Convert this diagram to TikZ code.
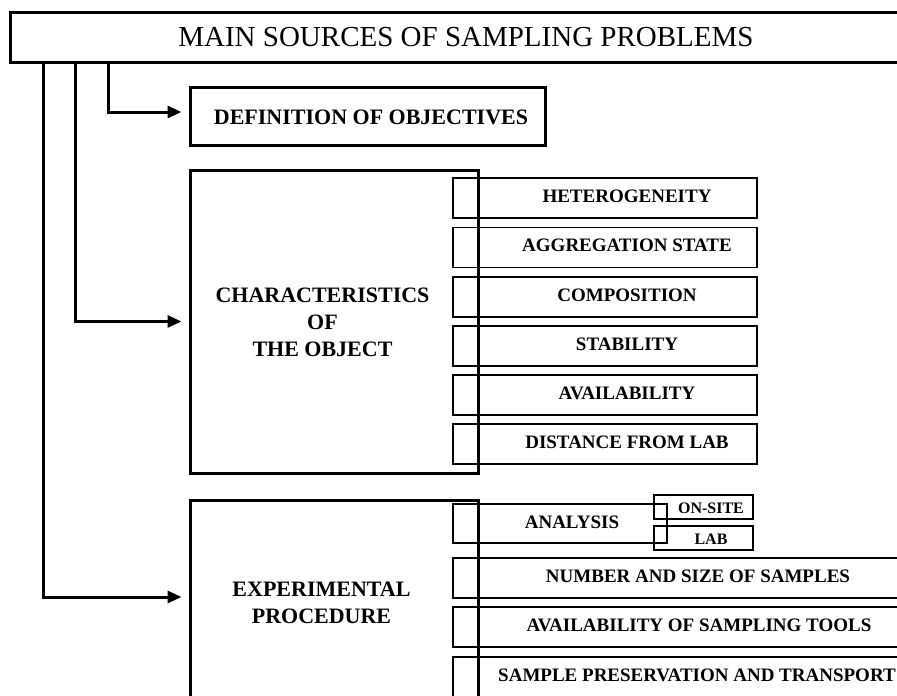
\documentclass[tikz,border=0pt]{standalone}
\usepackage{fontspec}
\setmainfont{Liberation Serif}
\usetikzlibrary{arrows.meta}
\begin{document}
\begin{tikzpicture}[x=1pt,y=-1pt,
  thickbox/.style={draw,line width=3pt,rectangle,inner sep=0pt},
  thinbox/.style={draw,line width=1.3pt,rectangle,inner sep=0pt},
  lbl/.style={font=\fontsize{19}{22}\selectfont\bfseries,inner sep=0pt},
  biglbl/.style={align=center,inner sep=0pt,font=\fontsize{22}{27}\selectfont\bfseries},
  small/.style={font=\fontsize{16}{18}\selectfont\bfseries,inner sep=0pt},
  arr/.style={line width=3pt,-{Triangle[length=14pt,width=12pt]},shorten >=7pt}]
\clip (0,0) rectangle (897,696);
% title
\node[thickbox,minimum width=912pt,minimum height=50pt,font=\fontsize{29}{32}\selectfont] (title) at (466,37) {MAIN SOURCES OF SAMPLING PROBLEMS};
% definition
\node[thickbox,minimum width=355pt,minimum height=58pt] (def) at (367.5,116) {};
\node[inner sep=0pt,font=\fontsize{22}{25}\selectfont\bfseries] (deft) at (371,117) {DEFINITION OF OBJECTIVES};
% characteristics
\node[thickbox,minimum width=288pt,minimum height=303pt] (char) at (334,321.5) {};
\node[biglbl] (chartext) at (322.5,322) {CHARACTERISTICS\\OF\\THE OBJECT};
% experimental
\node[thickbox,minimum width=288pt,minimum height=200pt] (exp) at (334,600) {};
\node[biglbl] (exptext) at (321.5,603) {EXPERIMENTAL\\PROCEDURE};
% char sub boxes
\foreach \n/\y/\t in {h1/198/HETEROGENEITY,h2/247.5/AGGREGATION STATE,h3/297/COMPOSITION,h4/346/STABILITY,h5/395/AVAILABILITY,h6/444/DISTANCE FROM LAB}{
  \node[thinbox,minimum width=304pt,minimum height=40pt] (\n) at (605,\y) {};
  \node[lbl] (\n t) at (627,\y-2) {\t};
}
% experimental sub boxes
\node[thinbox,minimum width=214pt,minimum height=39pt] (ana) at (560,523.5) {};
\node[lbl] (anat) at (572,522) {ANALYSIS};
\node[thinbox,minimum width=99pt,minimum height=24pt] (onsite) at (703.5,507) {};
\node[small] (onsitet) at (711,508) {ON-SITE};
\node[thinbox,minimum width=99pt,minimum height=24pt] (lab) at (703.5,538) {};
\node[small] (labt) at (711,539) {LAB};
\node[thinbox,minimum width=492pt,minimum height=40pt] (num) at (699,578) {};
\node[lbl] (numt) at (698,576) {NUMBER AND SIZE OF SAMPLES};
\node[thinbox,minimum width=492pt,minimum height=40pt] (tools) at (699,627) {};
\node[lbl] (toolst) at (699,625) {AVAILABILITY OF SAMPLING TOOLS};
\node[thinbox,minimum width=492pt,minimum height=40pt] (pres) at (699,677) {};
\node[lbl] (prest) at (697,675) {SAMPLE PRESERVATION AND TRANSPORT};
% connectors
\coordinate (s1) at (43,62);
\coordinate (s2) at (75,62);
\coordinate (s3) at (108,62);
\draw[arr] (s3) |- ([yshift=4pt]def.west);
\draw[arr] (s2) |- (char.west);
\draw[arr] (s1) |- ([yshift=3pt]exp.west);
\end{tikzpicture}
\end{document}
